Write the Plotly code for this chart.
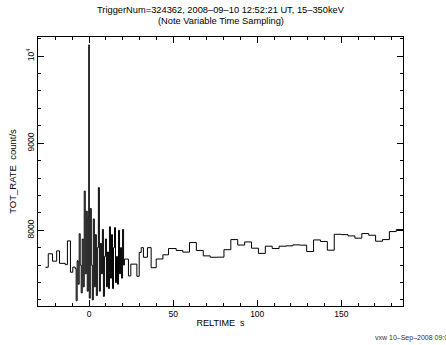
import plotly.graph_objects as go

# ---- data (bin start times in s, rate in count/s) ----
pre_t = [-26.0, -24.3, -21.8, -19.3, -17.6, -14.2, -12.9, -11.1, -9.7]
pre_rate = [7575, 7730, 7645, 7763, 7620, 7605, 7878, 7518, 7577]

burst_t = [-8.3, -7.7, -7.1, -6.5, -5.9, -5.3, -4.7, -4.1, -3.5, -2.9,
           -2.3, -1.7, -1.1, -0.5, -0.2, 0.1, 0.7, 1.3, 1.9, 2.5,
           3.1, 3.7, 4.3, 4.9, 5.5, 6.1, 6.7, 7.3, 7.9, 8.5,
           9.1, 9.7, 10.3, 10.9, 11.5, 12.1, 12.7, 13.3, 13.9, 14.5,
           15.1, 15.7, 16.3, 16.9, 17.5, 18.1, 18.7, 19.3, 19.9, 20.5]
burst_rate = [7560, 7190, 7650, 7380, 7960, 7600, 7280, 7900, 7350, 8450,
              7500, 8220, 7300, 8150, 10130, 7220, 8250, 7600, 7200, 8130,
              7350, 7950, 7250, 7800, 8490, 7300, 7850, 7500, 8010, 7240,
              7700, 7900, 7350, 7750, 7330, 8040, 7450, 7950, 7330, 7800,
              8030, 7400, 7700, 7380, 8000, 7500, 7800, 7450, 8010, 7600]

post_t = [21.0, 23.4, 24.8, 28.4, 29.8, 31.0, 32.3, 34.7, 36.9, 39.9,
          43.9, 47.2, 51.8, 55.7, 59.7, 63.8, 67.9, 72.0, 76.1, 80.2,
          84.3, 88.4, 92.5, 96.6, 100.7, 104.8, 108.9, 113.0, 117.1, 121.2,
          125.3, 129.4, 133.5, 137.6, 141.7, 145.8, 149.9, 154.0, 158.1, 162.2,
          166.3, 170.4, 174.5, 178.6, 182.7, 186.8]
post_rate = [7669, 7475, 7611, 7471, 7745, 7800, 7690, 7800, 7570, 7670,
             7718, 7790, 7768, 7749, 7859, 7768, 7706, 7690, 7691, 7777,
             7893, 7830, 7866, 7794, 7734, 7817, 7790, 7817, 7821, 7832,
             7829, 7756, 7889, 7871, 7771, 7954, 7950, 7935, 7909, 7962,
             7943, 7874, 7893, 7985, 8008, 8008]

x_ticks = [0, 50, 100, 150]
y_ticks = [8000, 9000, 10000]
y_ticktext = ["8000", "9000", "10<sup>4</sup>"]

title_line1 = "TriggerNum=324362, 2008\u201309\u201310 12:52:21 UT, 15\u2013350keV"
title_line2 = "(Note Variable Time Sampling)"
footer = "vxw 10\u2013Sep\u20132008 09:07"

t_all = pre_t + burst_t + post_t
r_all = pre_rate + burst_rate + post_rate

FONT = "Liberation Sans, Arial, Helvetica, sans-serif"

fig = go.Figure()
fig.add_trace(go.Scatter(
    x=t_all, y=r_all, mode="lines", line=dict(shape="hv", color="black", width=1),
    showlegend=False, hoverinfo="skip"))

axis_common = dict(
    showline=True, linecolor="black", linewidth=1, mirror="allticks",
    ticks="inside", ticklen=6, tickcolor="black", tickwidth=1,
    showgrid=False, zeroline=False,
    tickfont=dict(family=FONT, size=8.5, color="black"),
)

fig.update_xaxes(
    range=[-30.4, 186.7], tickvals=x_ticks,
    minor=dict(dtick=10, ticks="inside", ticklen=3, tickcolor="black", showgrid=False),
    title=dict(text="RELTIME  s", font=dict(family=FONT, size=9, color="black"), standoff=1),
    **axis_common)
fig.update_yaxes(
    range=[7130, 10220], tickvals=y_ticks, ticktext=y_ticktext, tickangle=-90,
    minor=dict(dtick=200, ticks="inside", ticklen=3, tickcolor="black", showgrid=False),
    title=dict(text="TOT_RATE  count/s", font=dict(family=FONT, size=9.5, color="black"), standoff=6),
    **axis_common)

plot_h = 345 - 37 - 39
plot_w = 446 - 38 - 43


def py(y_px):
    return (345 - 39 - y_px) / plot_h


def px(x_px):
    return (x_px - 38) / plot_w


fig.update_layout(
    width=446, height=345,
    margin=dict(l=38, r=43, t=37, b=39, pad=0),
    paper_bgcolor="white", plot_bgcolor="white",
    annotations=[
        dict(text=title_line1, x=px(221), y=py(10), xref="paper", yref="paper",
             xanchor="center", yanchor="middle",
             showarrow=False, font=dict(family=FONT, size=9.3, color="black")),
        dict(text=title_line2, x=px(221), y=py(21), xref="paper", yref="paper",
             xanchor="center", yanchor="middle",
             showarrow=False, font=dict(family=FONT, size=9.3, color="black")),
        dict(text=footer, x=px(373), y=py(338), xref="paper", yref="paper",
             xanchor="left", yanchor="middle",
             showarrow=False, font=dict(family=FONT, size=7, color="#333333")),
    ],
)

fig.write_html("out.html")
